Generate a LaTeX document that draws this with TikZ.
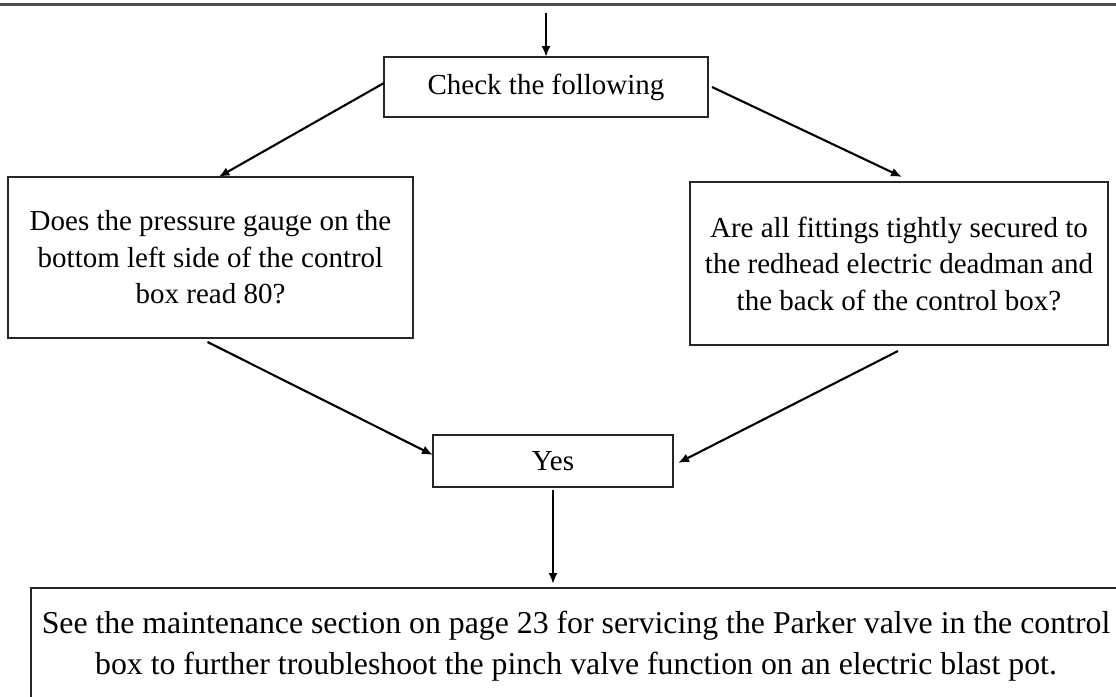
\documentclass[tikz,border=0pt]{standalone}
\usepackage{fontspec}
\setmainfont{Liberation Serif}
\usetikzlibrary{arrows.meta}
\begin{document}
\begin{tikzpicture}[x=1pt,y=-1pt,
  boxnode/.style={draw=black!85, line width=1.8pt, inner sep=0pt, outer sep=0pt,
    anchor=north west, align=center, font=\fontsize{29}{36.5}\selectfont},
  conn/.style={line width=2.1pt, -{Latex[length=11pt,width=9pt]}}]
\useasboundingbox (0,0) rectangle (1116,696);
\clip (0,0) rectangle (1116,696);
\fill[white] (0,0) rectangle (1116,696);
\coordinate (tl) at (0,4.7);
\coordinate (tr) at (1116,4.7);
\draw[black!70, line width=2.6pt] (tl) -- (tr);
\node[boxnode, minimum width=324pt, minimum height=60pt] (chk) at (384,57) {Check the following};
\node[boxnode, minimum width=405pt, minimum height=161pt] (lbox) at (8,177)
  {Does the pressure gauge on the\\bottom left side of the control\\box read 80?};
\node[boxnode, minimum width=418pt, minimum height=163pt] (rbox) at (690,182)
  {Are all fittings tightly secured to\\the redhead electric deadman and\\the back of the control box?};
\node[boxnode, minimum width=240pt, minimum height=52pt] (yes) at (433,435) {Yes};
\node[boxnode, minimum width=1090pt, minimum height=116pt, font=\fontsize{31.8}{41}\selectfont] (fin) at (31,588)
  {See the maintenance section on page 23 for servicing the Parker valve in the control\\box to further troubleshoot the pinch valve function on an electric blast pot.};
\coordinate (start) at (546,13);
\draw[conn] (start) -- (chk.north);
\draw[conn] ([yshift=4pt]chk.west) -- ([xshift=8pt]lbox.north);
\draw[conn] ([xshift=4pt]chk.east) -- ([xshift=3pt]lbox.north -| rbox.north);
\draw[conn] ([xshift=-3pt,yshift=-4pt]lbox.south) -- ([yshift=6pt]yes.west);
\draw[conn] ([xshift=-1pt,yshift=-6pt]rbox.south) -- ([xshift=5pt,yshift=-2pt]yes.east);
\draw[conn] ([yshift=-3pt]yes.south) -- ([yshift=4pt]fin.north -| yes.south);
\end{tikzpicture}
\end{document}
